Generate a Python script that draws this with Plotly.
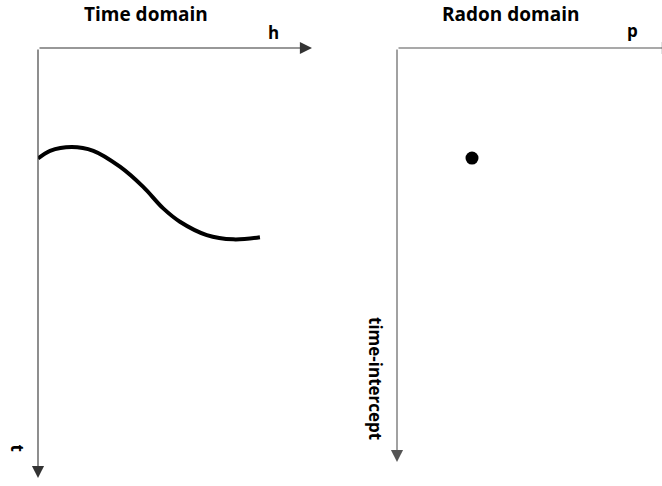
import plotly.graph_objects as go

W, H = 662, 486

# Curve in the time domain (offset h, time t) (0..1 units)
curve_h = [0.0, 0.044, 0.123, 0.202, 0.299, 0.384, 0.457, 0.518, 0.616, 0.713, 0.810]
curve_t = [0.257, 0.239, 0.230, 0.239, 0.276, 0.323, 0.373, 0.404, 0.435, 0.445, 0.440]

# Point in the Radon domain (slowness p, time-intercept tau)
radon_p = [0.283]
radon_tau = [0.266]

titles = ["Time domain", "Radon domain"]
axis_labels = {"h": "h", "t": "t", "p": "p", "tau": "time-intercept"}

fig = go.Figure()
fig.add_trace(go.Scatter(x=curve_h, y=curve_t, mode="lines",
                         line=dict(color="black", width=4, shape="spline", smoothing=1.0),
                         xaxis="x", yaxis="y", showlegend=False, hoverinfo="skip"))
fig.add_trace(go.Scatter(x=radon_p, y=radon_tau, mode="markers",
                         marker=dict(color="black", size=13),
                         xaxis="x2", yaxis="y2", showlegend=False, hoverinfo="skip"))

def px_x(p):
    return p / W

def px_y(p):
    return 1 - p / H

ax_common = dict(visible=False, showgrid=False, zeroline=False, fixedrange=True)
fig.update_layout(
    width=W, height=H,
    margin=dict(l=0, r=0, t=0, b=0),
    paper_bgcolor="white", plot_bgcolor="white",
    xaxis=dict(domain=[px_x(38), px_x(312)], range=[0, 1], **ax_common),
    yaxis=dict(domain=[px_y(478), px_y(48)], range=[1, 0], **ax_common),
    xaxis2=dict(domain=[px_x(397), 1.0], range=[0, 1], anchor="y2", **ax_common),
    yaxis2=dict(domain=[px_y(462), px_y(48)], range=[1, 0], anchor="x2", **ax_common),
    showlegend=False,
    hovermode=False,
)

font_title = dict(family="'Open Sans', Lato, sans-serif", size=19, color="black")
font_lab = dict(family="'Open Sans', Lato, sans-serif", size=17, color="black")

ann = []
# Axis arrows
def arrow(xref, yref, x0, y0, x1, y1, color, head=2):
    return dict(x=x1, y=y1, ax=x0, ay=y0, xref=xref, yref=yref, axref=xref, ayref=yref,
                text="", showarrow=True, arrowhead=head, arrowsize=2.2, arrowwidth=1.1,
                arrowcolor=color, standoff=0, startstandoff=0)

ann.append(arrow("x", "y", 0, 0, 1, 0, "#333333"))
ann.append(arrow("x", "y", 0, 0, 0, 1, "#333333"))
ann.append(arrow("x2", "y2", 0, 0, 1.045, 0, "#555555"))
ann.append(arrow("x2", "y2", 0, 0, 0, 1, "#555555"))

# Titles and labels
ann.append(dict(text="<b>%s</b>" % titles[0], x=px_x(145.5), y=px_y(14), xref="paper", yref="paper",
                showarrow=False, font=font_title, xanchor="center", yanchor="middle"))
ann.append(dict(text="<b>%s</b>" % titles[1], x=px_x(511), y=px_y(14), xref="paper", yref="paper",
                showarrow=False, font=font_title, xanchor="center", yanchor="middle"))
ann.append(dict(text="<b>%s</b>" % axis_labels["h"], x=px_x(273), y=px_y(32), xref="paper", yref="paper",
                showarrow=False, font=font_lab, xanchor="center", yanchor="middle"))
ann.append(dict(text="<b>%s</b>" % axis_labels["p"], x=px_x(632), y=px_y(31), xref="paper", yref="paper",
                showarrow=False, font=font_lab, xanchor="center", yanchor="middle"))
ann.append(dict(text="<b>%s</b>" % axis_labels["t"], x=px_x(17.5), y=px_y(448), xref="paper", yref="paper",
                showarrow=False, font=font_lab, textangle=90, xanchor="center", yanchor="middle"))
ann.append(dict(text="<b>%s</b>" % axis_labels["tau"], x=px_x(376), y=px_y(378), xref="paper", yref="paper",
                showarrow=False, font=font_lab, textangle=90, xanchor="center", yanchor="middle"))

fig.update_layout(annotations=ann)
fig.write_html("out.html",
               config={"displayModeBar": False, "staticPlot": True},
               post_script="document.body.style.margin='0';document.body.style.overflow='hidden';")
